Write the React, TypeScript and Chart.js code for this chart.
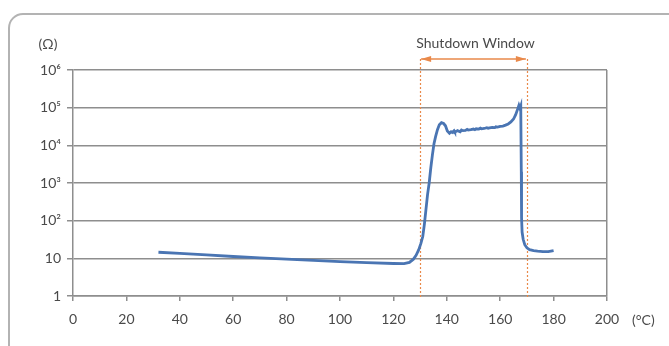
import React, { useEffect, useRef } from "react";
import { Chart, registerables } from "chart.js";

Chart.register(...registerables);

const temperatures = [
  32, 40, 50, 60, 70, 80, 90, 100, 110, 120, 124, 126, 127.5, 128.5, 129.5, 130.3, 131, 131.6,
  132.2, 132.8, 133.4, 134, 134.6, 135.2, 135.8, 136.5, 137.2, 138, 138.8, 139.5, 140.2, 141,
  141.6, 142, 142.7, 143, 143.6, 144, 145, 145.5, 146, 147, 147.6, 148, 149, 150, 150.5, 151,
  152, 152.6, 153, 154, 155, 155.5, 156, 157, 158, 158.4, 159, 160, 161, 162, 163, 164, 165,
  165.8, 166.5, 167, 167.4, 167.7, 167.9, 168.0, 168.2, 168.6, 169.2, 170, 171, 172.5, 174,
  176, 178, 180,
];
const resistances = [
  14.5, 13.5, 12.3, 11.2, 10.3, 9.5, 8.8, 8.2, 7.7, 7.3, 7.2, 7.8, 9.5, 12, 17, 25, 38, 80,
  200, 500, 1000, 2500, 5500, 11000, 17000, 26000, 35000, 40000, 38000, 33000, 24000, 21000,
  23000, 22000, 24500, 22500, 23500, 24500, 23000, 25500, 24500, 25000, 26500, 25500, 26000,
  27000, 26000, 27500, 27000, 28500, 27500, 28000, 29500, 28500, 29000, 30000, 29500, 31000,
  30500, 32000, 32500, 34500, 37000, 42000, 50000, 65000, 90000, 115000, 95000, 110000, 2000,
  120, 50, 32, 23, 19, 17, 16, 15.5, 15, 15, 16,
];

const xTicks = [0, 20, 40, 60, 80, 100, 120, 140, 160, 180, 200];
const yTicks = [1, 10, 100, 1000, 10000, 100000, 1000000];
const yTickLabels = ["1", "10", "10²", "10³", "10⁴", "10⁵", "10⁶"];
const shutdownStart = 130;
const shutdownEnd = 170;
const shutdownLabel = "Shutdown Window";
const yUnit = "(Ω)";
const xUnit = "(°C)";

const FONT = "Lato, 'Open Sans', sans-serif";
const GRID = "#8e8e8e";
const TEXT = "#4a4a4a";
const ORANGE = "#e9894a";

const decorations = {
  id: "decorations",
  beforeDraw(chart: any) {
    const ctx = chart.ctx;
    ctx.save();
    ctx.strokeStyle = "#b3b3b3";
    ctx.lineWidth = 2;
    const x0 = 9, y0 = 14, r = 14, x1 = 700, y1 = 380;
    ctx.beginPath();
    ctx.moveTo(x1, y0);
    ctx.lineTo(x0 + r, y0);
    ctx.arcTo(x0, y0, x0, y0 + r, r);
    ctx.lineTo(x0, y1);
    ctx.stroke();
    ctx.restore();
  },
  beforeDatasetsDraw(chart: any) {
    const ctx = chart.ctx;
    const xs = chart.scales.x;
    const area = chart.chartArea;
    const a = xs.getPixelForValue(shutdownStart);
    const b = xs.getPixelForValue(shutdownEnd);
    const yArrow = 59;
    ctx.save();
    ctx.strokeStyle = ORANGE;
    ctx.lineWidth = 1.2;
    ctx.setLineDash([2, 2]);
    [a, b].forEach((px) => {
      ctx.beginPath();
      ctx.moveTo(Math.round(px) + 0.5, yArrow);
      ctx.lineTo(Math.round(px) + 0.5, area.bottom + 3);
      ctx.stroke();
    });
    ctx.setLineDash([]);
    ctx.lineWidth = 1.5;
    ctx.beginPath();
    ctx.moveTo(a + 1, yArrow);
    ctx.lineTo(b - 1, yArrow);
    ctx.stroke();
    ctx.fillStyle = ORANGE;
    ctx.beginPath();
    ctx.moveTo(a + 1, yArrow);
    ctx.lineTo(a + 11, yArrow - 3);
    ctx.lineTo(a + 11, yArrow + 3);
    ctx.closePath();
    ctx.fill();
    ctx.beginPath();
    ctx.moveTo(b - 1, yArrow);
    ctx.lineTo(b - 11, yArrow - 3);
    ctx.lineTo(b - 11, yArrow + 3);
    ctx.closePath();
    ctx.fill();

    ctx.fillStyle = TEXT;
    ctx.font = `14px ${FONT}`;
    ctx.textAlign = "center";
    ctx.textBaseline = "middle";
    ctx.fillText(shutdownLabel, (a + b) / 2 + 2, 43);
    ctx.font = `14px ${FONT}`;
    ctx.fillText(yUnit, 48, 44);
    ctx.textAlign = "left";
    ctx.fillText(xUnit, 632, 320);
    ctx.restore();
  },
};

export default function App() {
  const ref = useRef<HTMLCanvasElement | null>(null);
  useEffect(() => {
    document.body.style.margin = "0";
    const canvas = ref.current!;
    const chart = new Chart(canvas, {
      type: "line",
      data: {
        datasets: [
          {
            data: temperatures.map((t, i) => ({ x: t, y: resistances[i] })),
            borderColor: "#4a75b3",
            borderWidth: 2.8,
            pointRadius: 0,
            tension: 0,
            fill: false,
          },
        ],
      },
      options: {
        animation: false,
        responsive: false,
        events: [],
        layout: { padding: { top: 70, right: 62, left: 0, bottom: 0 } },
        plugins: { legend: { display: false }, tooltip: { enabled: false } },
        scales: {
          x: {
            type: "linear",
            min: 0,
            max: 200,
            afterBuildTicks: (s: any) => {
              s.ticks = xTicks.map((v) => ({ value: v }));
            },
            afterFit: (s: any) => {
              s.height = 50;
            },
            grid: {
              drawOnChartArea: true,
              color: (c: any) => (c.tick && c.tick.value === 200 ? GRID : "rgba(0,0,0,0)"),
              tickColor: GRID,
              lineWidth: 1.5,
              tickLength: 5,
            },
            border: { color: GRID, width: 1.5 },
            ticks: {
              color: TEXT,
              font: { family: FONT, size: 14 },
              padding: 10,
              maxRotation: 0,
              autoSkip: false,
            },
          },
          y: {
            type: "logarithmic",
            min: 1,
            max: 1000000,
            afterBuildTicks: (s: any) => {
              s.ticks = yTicks.map((v) => ({ value: v }));
            },
            afterFit: (s: any) => {
              s.width = 73;
            },
            grid: {
              color: GRID,
              tickColor: GRID,
              lineWidth: 1.5,
              tickLength: 6,
            },
            border: { color: GRID, width: 1.5 },
            ticks: {
              color: TEXT,
              font: { family: FONT, size: 14 },
              padding: 6,
              autoSkip: false,
              callback: (v: any) => {
                const i = yTicks.indexOf(Number(v));
                return i >= 0 ? yTickLabels[i] : "";
              },
            },
          },
        },
      },
      plugins: [decorations],
    });
    return () => chart.destroy();
  }, []);
  return (
    <div style={{ position: "absolute", left: 0, top: 0, width: 669, height: 346 }}>
      <canvas ref={ref} width={669} height={346} style={{ display: "block" }} />
    </div>
  );
}
